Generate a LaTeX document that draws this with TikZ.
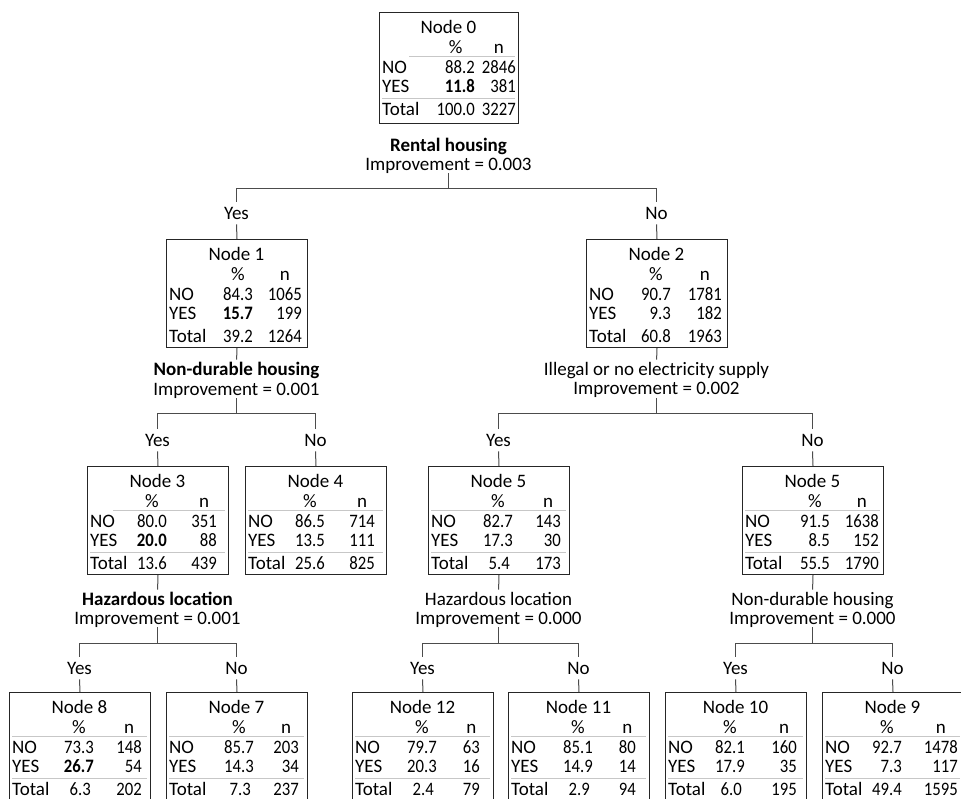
\documentclass[tikz,border=0pt]{standalone}
\usepackage{fontspec}
\setmainfont{Carlito}
\newfontfamily\numfont[FakeStretch=0.88]{Carlito}
\newcommand\fnt{\fontsize{19}{22}\selectfont}
\newcommand\bw{141}
\newcommand\bh{108}
\newcommand\pc{85}
\newcommand\nc{133}
\newcommand\rs{3}
\newif\ifrules \rulestrue
% header text centred over the widest of three entries (measured in the node's own font)
\newcommand\hdr[4]{\sbox0{\numfont #2}\sbox2{\numfont #3}\ifdim\wd2>\wd0 \sbox0{\numfont #3}\fi\sbox2{\numfont #4}\ifdim\wd2>\wd0 \sbox0{\numfont #4}\fi\makebox[\wd0][c]{#1}}
\tikzset{
  x=1pt, y=-1pt,
  boxn/.style={draw=black!85, line width=1pt, inner sep=0pt, anchor=north west},
  txt/.style={inner sep=0pt, text height=12.2pt, text depth=0pt, font=\fnt},
  num/.style={txt, anchor=east, font=\fnt\numfont},
  slab/.style={txt},
  yn/.style={txt, inner ysep=5pt},
  rul/.style={draw=black!22, line width=1pt},
  conn/.style={draw=black!70, line width=1pt},
  toLab/.style={conn, shorten >=3pt},
  fromLab/.style={conn, shorten <=3pt}
}
\newcommand\tbox[8]{%
  \node[boxn, minimum width=\bw pt, minimum height=\bh pt] (#1) at (0,0) {};
  \node[txt] (#1-t) at (\bw/2,15) {#2};
  \node[txt, anchor=east] (#1-hp) at (\pc,35) {\hdr{\%}{#3}{#5}{#7}};
  \node[txt, anchor=east] (#1-hn) at (\nc,35) {\hdr{n}{#4}{#6}{#8}};
  \ifrules\draw[rul] (\rs,44) -- (\bw-3,44);\fi
  \node[txt, anchor=west] (#1-l1) at (3,55) {NO};
  \node[num] (#1-p1) at (\pc,55) {#3};
  \node[num] (#1-n1) at (\nc,55) {#4};
  \node[txt, anchor=west] (#1-l2) at (3,74) {YES};
  \node[num] (#1-p2) at (\pc,74) {#5};
  \node[num] (#1-n2) at (\nc,74) {#6};
  \ifrules\draw[rul] (3,86.5) -- (\bw-3,86.5);\fi
  \node[txt, anchor=west] (#1-l3) at (3,97.5) {Total};
  \node[num] (#1-p3) at (\pc,97.5) {#7};
  \node[num] (#1-n3) at (\nc,97.5) {#8};
}
\begin{document}
\begin{tikzpicture}
\useasboundingbox (0,0) rectangle (961,798);
\clip (0,0) rectangle (961,798);
\fill[white] (0,0) rectangle (961,798);

% ---------- boxes ----------
\begin{scope}[shift={(379,12)}]
  \renewcommand\bw{139}\renewcommand\bh{111}\renewcommand\pc{96}\renewcommand\nc{137}\renewcommand\rs{30}
  \tbox{n0}{Node 0}{88.2}{2846}{\textbf{11.8}}{381}{100.0}{3227}
\end{scope}
\begin{scope}[shift={(166,239)}]
  \rulesfalse\renewcommand\pc{87}\renewcommand\nc{136}
  \tbox{n1}{Node 1}{84.3}{1065}{\textbf{15.7}}{199}{39.2}{1264}
\end{scope}
\begin{scope}[shift={(586,239)}]
  \rulesfalse\renewcommand\nc{136}
  \tbox{n2}{Node 2}{90.7}{1781}{9.3}{182}{60.8}{1963}
\end{scope}
\begin{scope}[shift={(87,466)}]
  \renewcommand\rs{26}\renewcommand\pc{80}\renewcommand\nc{130}
  \tbox{n3}{Node 3}{80.0}{351}{\textbf{20.0}}{88}{13.6}{439}
\end{scope}
\begin{scope}[shift={(245,466)}]
  \renewcommand\pc{80}\renewcommand\nc{130}
  \tbox{n4}{Node 4}{86.5}{714}{13.5}{111}{25.6}{825}
\end{scope}
\begin{scope}[shift={(428,466)}]
  \tbox{n5a}{Node 5}{82.7}{143}{17.3}{30}{5.4\kern3pt}{173}
\end{scope}
\begin{scope}[shift={(742,466)}]
  \renewcommand\pc{88}\renewcommand\nc{137}
  \tbox{n5b}{Node 5}{91.5}{1638}{8.5}{152}{55.5}{1790}
\end{scope}
\begin{scope}[shift={(9,692)}]
  \tbox{n8}{Node 8}{73.3}{148}{\textbf{26.7}}{54}{6.3\kern3pt}{202}
\end{scope}
\begin{scope}[shift={(166,692)}]
  \renewcommand\pc{88}
  \tbox{n7}{Node 7}{85.7}{203}{14.3}{34}{7.3\kern3pt}{237}
\end{scope}
\begin{scope}[shift={(352,692)}]
  \renewcommand\nc{128}
  \tbox{n12}{Node 12}{79.7}{63}{20.3}{16}{2.4\kern3pt}{79}
\end{scope}
\begin{scope}[shift={(508,692)}]
  \renewcommand\nc{128}
  \tbox{n11}{Node 11}{85.1}{80}{14.9}{14}{2.9\kern3pt}{94}
\end{scope}
\begin{scope}[shift={(665,692)}]
  \renewcommand\pc{80}\renewcommand\nc{132}
  \tbox{n10}{Node 10}{82.1}{160}{17.9}{35}{6.0\kern3pt}{195}
\end{scope}
\begin{scope}[shift={(822,692)}]
  \renewcommand\pc{80}\renewcommand\nc{136}
  \tbox{n9}{Node 9}{92.7}{1478}{7.3}{117}{49.4}{1595}
\end{scope}

% ---------- split 0 ----------
\node[slab, font=\fnt\bfseries] (s0a) at (448.5,145.5) {Rental housing};
\node[slab] (s0b) at (448.5,164) {Improvement = 0.003};
\coordinate (b0) at (448.5,188);
\coordinate (b0l) at (236.5,188);
\coordinate (b0r) at (656.5,188);
\node[yn] (y0) at (236.5,213) {Yes};
\node[yn] (o0) at (656.5,213) {No};
\draw[fromLab] (s0b.south) -- (b0);
\draw[conn] (b0l) -- (b0r);
\draw[conn] (b0l) -- (y0.north);
\draw[conn] (b0r) -- (o0.north);
\draw[conn] (y0.south) -- (n1.north);
\draw[conn] (o0.south) -- (n2.north);

% ---------- split 1 ----------
\node[slab, font=\fnt\bfseries] (s1a) at (236.5,369) {Non-durable housing};
\node[slab] (s1b) at (236.5,389) {Improvement = 0.001};
\coordinate (b1) at (236.5,413);
\coordinate (b1l) at (157.5,413);
\coordinate (b1r) at (315.5,413);
\node[yn] (y1) at (157.5,440) {Yes};
\node[yn] (o1) at (315.5,440) {No};
\draw[toLab] (n1.south) -- (s1a.north);
\draw[fromLab] (s1b.south) -- (b1);
\draw[conn] (b1l) -- (b1r);
\draw[conn] (b1l) -- (y1.north);
\draw[conn] (b1r) -- (o1.north);
\draw[conn] (y1.south) -- (n3.north);
\draw[conn] (o1.south) -- (n4.north);

% ---------- split 2 ----------
\node[slab] (s2a) at (656.5,369) {Illegal or no electricity supply};
\node[slab] (s2b) at (656.5,388.5) {Improvement = 0.002};
\coordinate (b2) at (656.5,413);
\coordinate (b2l) at (498.5,413);
\coordinate (b2r) at (812.5,413);
\node[yn] (y2) at (498.5,440) {Yes};
\node[yn] (o2) at (812.5,440) {No};
\draw[toLab] (n2.south) -- (s2a.north);
\draw[fromLab] (s2b.south) -- (b2);
\draw[conn] (b2l) -- (b2r);
\draw[conn] (b2l) -- (y2.north);
\draw[conn] (b2r) -- (o2.north);
\draw[conn] (y2.south) -- (n5a.north);
\draw[conn] (o2.south) -- (n5b.north);

% ---------- split 3 ----------
\node[slab, font=\fnt\bfseries] (s3a) at (157.5,599) {Hazardous location};
\node[slab] (s3b) at (157.5,618) {Improvement = 0.001};
\coordinate (b3) at (157.5,643);
\coordinate (b3l) at (79.5,643);
\coordinate (b3r) at (236.5,643);
\node[yn] (y3) at (79.5,668) {Yes};
\node[yn] (o3) at (236.5,668) {No};
\draw[toLab] (n3.south) -- (s3a.north);
\draw[fromLab] (s3b.south) -- (b3);
\draw[conn] (b3l) -- (b3r);
\draw[conn] (b3l) -- (y3.north);
\draw[conn] (b3r) -- (o3.north);
\draw[conn] (y3.south) -- (n8.north);
\draw[conn] (o3.south) -- (n7.north);

% ---------- split 5a ----------
\node[slab] (s4a) at (498.5,599) {Hazardous location};
\node[slab] (s4b) at (498.5,618) {Improvement = 0.000};
\coordinate (b4) at (498.5,643);
\coordinate (b4l) at (422.5,643);
\coordinate (b4r) at (578.5,643);
\node[yn] (y4) at (422.5,668) {Yes};
\node[yn] (o4) at (578.5,668) {No};
\draw[toLab] (n5a.south) -- (s4a.north);
\draw[fromLab] (s4b.south) -- (b4);
\draw[conn] (b4l) -- (b4r);
\draw[conn] (b4l) -- (y4.north);
\draw[conn] (b4r) -- (o4.north);
\draw[conn] (y4.south) -- (n12.north);
\draw[conn] (o4.south) -- (n11.north);

% ---------- split 5b ----------
\node[slab] (s5a) at (812.5,599) {Non-durable housing};
\node[slab] (s5b) at (812.5,618) {Improvement = 0.000};
\coordinate (b5) at (812.5,643);
\coordinate (b5l) at (735.5,643);
\coordinate (b5r) at (892.5,643);
\node[yn] (y5) at (735.5,668) {Yes};
\node[yn] (o5) at (892.5,668) {No};
\draw[toLab] (n5b.south) -- (s5a.north);
\draw[fromLab] (s5b.south) -- (b5);
\draw[conn] (b5l) -- (b5r);
\draw[conn] (b5l) -- (y5.north);
\draw[conn] (b5r) -- (o5.north);
\draw[conn] (y5.south) -- (n10.north);
\draw[conn] (o5.south) -- (n9.north);
\end{tikzpicture}
\end{document}
